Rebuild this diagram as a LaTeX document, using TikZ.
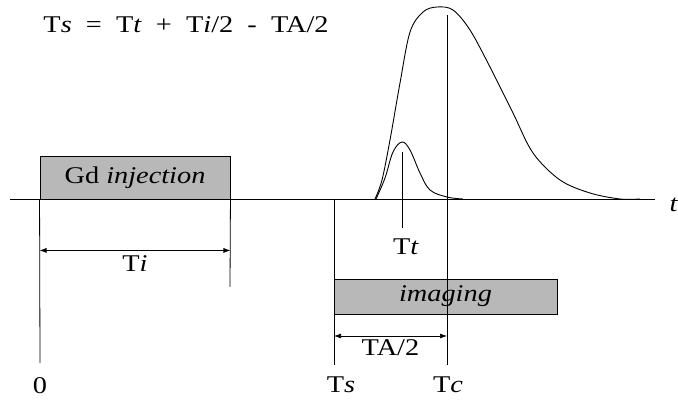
\documentclass[tikz,border=0pt]{standalone}
\usepackage{fontspec}
\setmainfont{Liberation Serif}
\usetikzlibrary{positioning, arrows.meta, calc}
\newcommand\eqgap{\hspace{0.5em}}

\begin{document}
\begin{tikzpicture}[x=1pt, y=-1pt, line width=0.9pt,
    lbl/.style={font=\fontsize{24}{28}\selectfont, xscale=1.18},
    timebox/.style={draw, fill=black!28, inner sep=0pt},
    span/.style={{Latex[length=7pt,width=5pt]}-{Latex[length=7pt,width=5pt]}, line width=0.7pt},
    marker/.style={line width=0.8pt}]
  \useasboundingbox (0,0) rectangle (678,403);

  % Formula
  \node[lbl] (formula) at (186,25) {T\textit{s}\eqgap=\eqgap T\textit{t}\eqgap+\eqgap T\textit{i}/2\eqgap-\eqgap TA/2};

  % Time axis
  \coordinate (axL) at (10,199);
  \coordinate (axR) at (655,199);
  \draw (axL) -- (axR);
  \node[lbl, anchor=west, inner sep=0pt] (tlab) at (669,205) {\textit{t}};

  % Enhancement curves
  \draw plot[smooth, tension=0.55] coordinates {(375,199) (382,180) (390,140) (400,83) (410,32)
    (423,12) (437,7) (453,10) (470,30) (490,67) (513,113) (533,153) (560,180) (590,193) (620,199) (640,199)};
  \draw plot[smooth, tension=0.6] coordinates {(376,199) (385,178) (393,152) (402,142) (410,150)
    (420,173) (430,190) (447,197) (463,199)};

  % Injection
  \node[timebox, minimum width=190pt, minimum height=43pt] (inj) at (135,177.5) {};
  \node[lbl] (injlab) at (inj.center) {Gd \textit{injection}};
  \coordinate (zeroB) at (40,363);
  \coordinate (injB) at (230,287);
  \draw[marker] (inj.south west) -- (zeroB);
  \draw[marker] (inj.south east) -- (injB);
  \draw[span] ($(inj.south west)+(0,51)$) -- node[lbl, below=1pt] (ti) {T\textit{i}} ($(inj.south east)+(0,51)$);
  \node[lbl] (zero) at (40,386) {0};

  % Imaging
  \node[timebox, minimum width=223pt, minimum height=35pt] (img) at (445.5,296.5) {};
  \node[lbl] (imglab) at (img.center) {\textit{imaging}};
  \coordinate (tsT) at (334,199);
  \coordinate (tsB) at (334,365);
  \coordinate (tcT) at (447,15);
  \coordinate (tcB) at (447,365);
  \coordinate (ttT) at (402,152);
  \coordinate (ttB) at (402,228);
  \draw[marker] (tsT) -- (tsB);
  \draw[marker] (tcT) -- (tcB);
  \draw[marker] (ttT) -- (ttB);
  \node[lbl] (tt) at (406,247) {T\textit{t}};
  \draw[span] (334,336) -- node[lbl, below=0pt] (ta) {TA/2} (447,336);
  \node[lbl] (ts) at (341,385) {T\textit{s}};
  \node[lbl] (tc) at (448,385) {T\textit{c}};
\end{tikzpicture}
\end{document}
